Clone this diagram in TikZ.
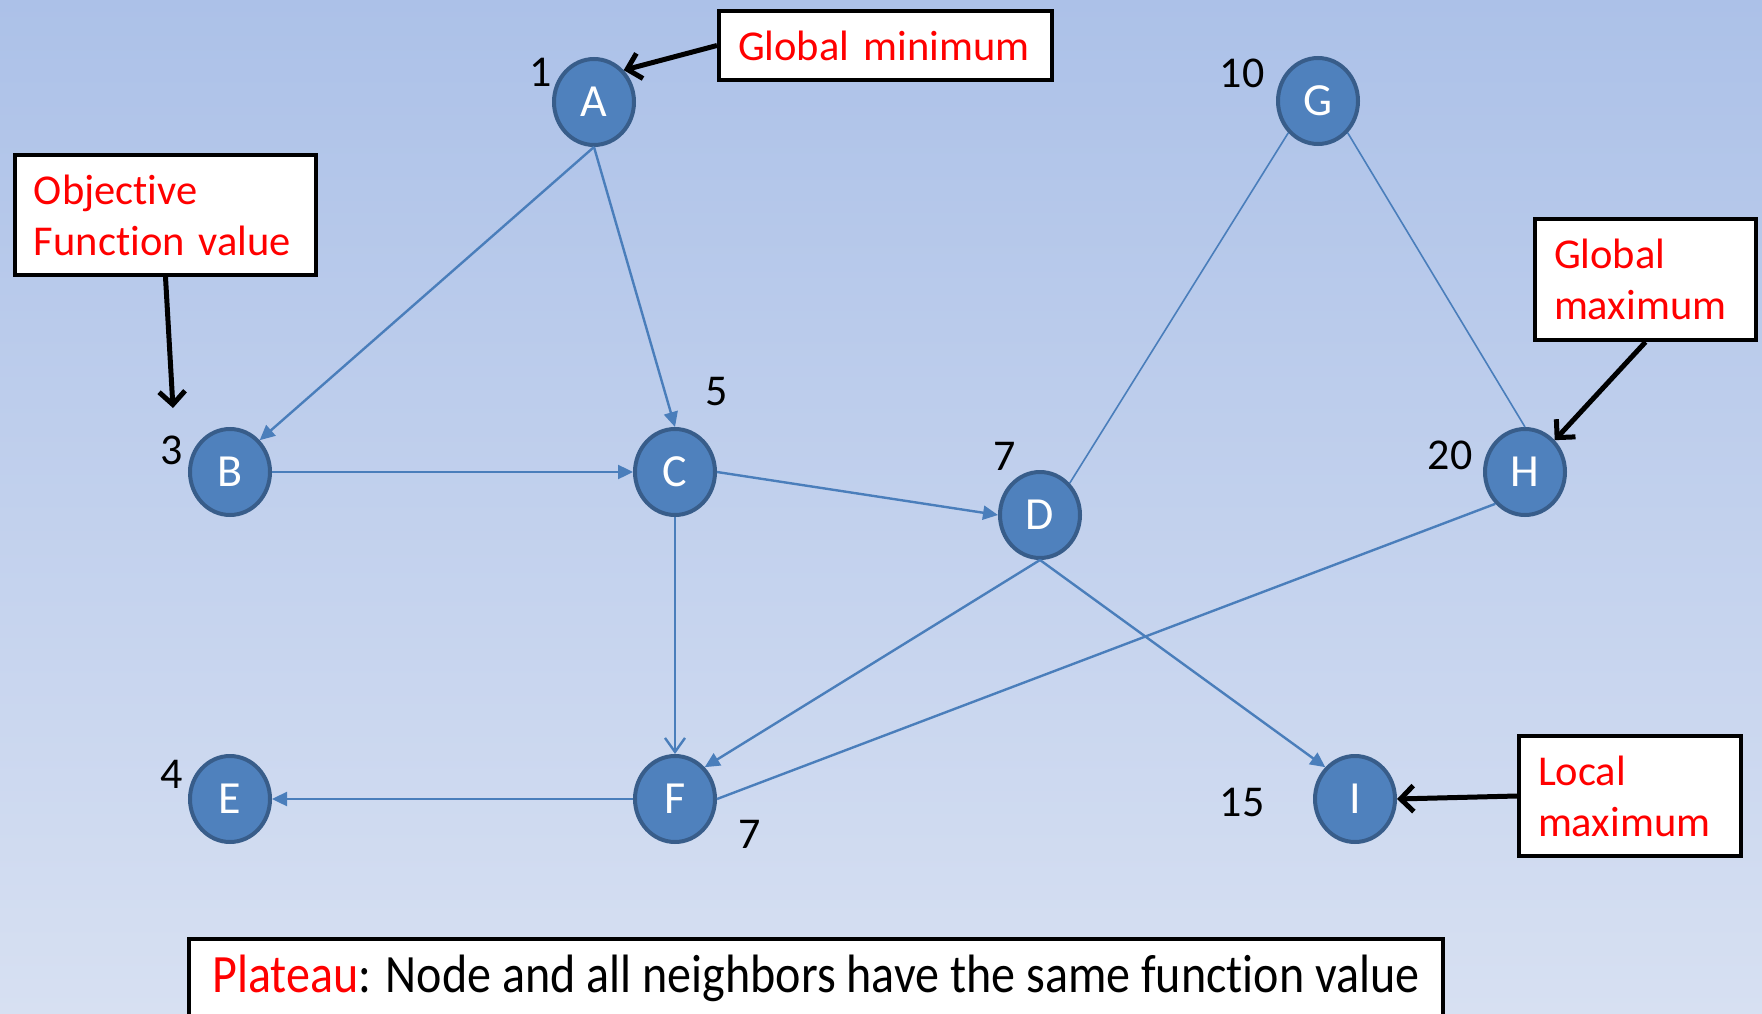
\documentclass[tikz,border=0pt]{standalone}
\usepackage{fontspec}
\setmainfont[Ligatures=NoCommon, WordSpace=0.8]{Carlito}
\newfontfamily\narrowfont[FakeStretch=0.89, Ligatures=NoCommon]{Carlito}
\usepackage{xcolor}
\usepackage{tikz}
\usetikzlibrary{shapes.geometric,arrows.meta,positioning}
\definecolor{bgtop}{RGB}{172,193,232}
\definecolor{bgbot}{RGB}{215,224,242}
\definecolor{nodeblue}{RGB}{79,129,189}
\definecolor{nodeline}{RGB}{56,93,138}
\definecolor{edgeblue}{RGB}{74,126,187}

\begin{document}
\begin{tikzpicture}[
  x=1pt, y=-1pt,
  font=\fontsize{42.5}{51}\selectfont,
  st/.style={ellipse, draw=nodeline, line width=4pt, fill=nodeblue, text=white,
    minimum width=80pt, minimum height=86pt, inner sep=0pt, font=\fontsize{46}{51}\selectfont},
  val/.style={inner sep=0pt, font=\fontsize{44}{51}\selectfont},
  lnk/.style={draw=edgeblue, line width=2.4pt},
  thinlnk/.style={draw=edgeblue, line width=1.6pt},
  arr/.style={lnk, -{Triangle[length=15pt,width=14pt]}},
  openarr/.style={lnk, -{Straight Barb[length=14pt,width=20pt]}},
  note/.style={draw, line width=4pt, fill=white, text=red, align=left,
    inner ysep=0pt, inner xsep=19pt},
  call/.style={line width=5pt, -{Straight Barb[length=13pt,width=26pt]}}
]
\useasboundingbox (0,0) rectangle (1762,1014);
\shade[top color=bgtop, bottom color=bgbot] (0,0) rectangle (1762,1014);

% graph nodes
\node[st] (A) at (594,102) {A};
\node[st] (B) at (230,472) {B};
\node[st] (C) at (675,472) {C};
\node[st] (D) at (1040,515) {D};
\node[st] (E) at (230,799) {E};
\node[st] (F) at (675,799) {F};
\node[st] (G) at (1318,101) {G};
\node[st] (H) at (1525,472) {H};
\node[st] (I) at (1355,799) {I};

% function values
\node[val] (vA) at (541,72)   {1};
\node[val] (vB) at (172,450)  {3};
\node[val] (vC) at (717,392)  {5};
\node[val] (vD) at (1005,456) {7};
\node[val] (vE) at (172,774)  {4};
\node[val] (vF) at (750,834)  {7};
\node[val] (vG) at (1242,73)  {10};
\node[val] (vH) at (1450,455) {20};
\node[val] (vI) at (1242,802) {15};

% edges
\draw[arr] (A.south) -- (B.north east);
\draw[arr] (A.south) -- (C.north);
\draw[arr] (B.east) -- (C.west);
\draw[arr] (C.east) -- (D.west);
\draw[openarr] (C.south) -- (F.north);
\draw[arr] (D.south) -- (F.north east);
\draw[arr] (D.south) -- (I.north west);
\draw[arr] (F.west) -- (E.east);
\draw[lnk] (H.south west) -- (F.east);
\draw[thinlnk] (G.south west) -- (D.north east);
\draw[thinlnk] (G.south east) -- (H.north);

% callouts
\node[note, minimum width=333pt, minimum height=69pt, text width=295pt] (gmin) at (885.5,45.5) {Global minimum};
\node[note, minimum width=301pt, minimum height=120pt, text width=263pt] (obj) at (165.5,215) {Objective\\Function value};
\node[note, minimum width=221pt, minimum height=121pt, text width=183pt] (gmax) at (1645.5,279.5) {Global\\maximum};
\node[note, minimum width=222pt, minimum height=120pt, text width=184pt] (lmax) at (1630,796) {Local\\maximum};
\node[draw, line width=4pt, fill=white, minimum width=1254pt, minimum height=79pt, inner sep=0pt,
  font=\narrowfont\fontsize{54}{60}\selectfont] (plat) at (816,978.5)
  {{\color{red}Plateau}: Node and all neighbors have the same function value};

\coordinate (objtip) at (173,408);
\draw[call] (gmin.west) -- (A.north east);
\draw[call] (obj.south) -- (objtip);
\draw[call] (gmax.south) -- (H.north east);
\draw[call] (lmax.west) -- (I.east);
\end{tikzpicture}
\end{document}
